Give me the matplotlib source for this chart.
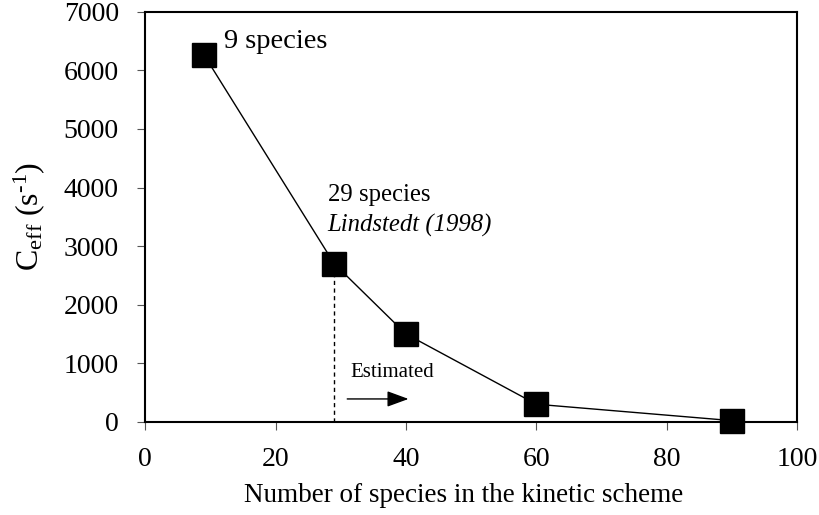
import matplotlib
matplotlib.use('Agg')

import matplotlib.pyplot as plt

# species count in the kinetic scheme vs effective rate constant
n_species = [9, 29, 40, 60, 90]
c_eff = [6270, 2700, 1500, 300, 20]

plt.rcParams['font.family'] = ['Liberation Serif', 'DejaVu Serif']
plt.rcParams['mathtext.fontset'] = 'custom'
plt.rcParams['mathtext.rm'] = 'Liberation Serif'
plt.rcParams['mathtext.it'] = 'Liberation Serif:italic'

fig = plt.figure(figsize=(8.2, 5.15), dpi=100)
ax = fig.add_axes([0.177, 0.181, 0.795, 0.796])

ax.plot(n_species, c_eff, color='black', lw=1.0, marker='s',
        markersize=17.5, markerfacecolor='black', markeredgecolor='black',
        clip_on=False, zorder=3)

# reference point of the 29-species scheme
ax.plot([n_species[1], n_species[1]], [0, c_eff[1]], color='black',
        lw=1.0, ls=(0, (3, 2.5)), zorder=2)

ax.text(n_species[0] + 3.1, c_eff[0] + 220, '9 species', fontsize=20.5,
        va='center', ha='left')
ax.text(28.0, 3880, '29 species', fontsize=17.8, va='center', ha='left')
ax.text(28.0, 3360, 'Lindstedt (1998)', fontsize=17.8, va='center',
        ha='left', style='italic')
ax.text(31.5, 850, 'Estimated', fontsize=15, va='center', ha='left')
ax.annotate('', xy=(40.4, 390), xytext=(31.0, 390),
            arrowprops=dict(arrowstyle='-|>,head_length=0.6,head_width=0.22',
                            color='black', lw=1.0, mutation_scale=22,
                            shrinkA=0, shrinkB=0))

ax.set_xlim(0, 100)
ax.set_ylim(0, 7000)
ax.set_xticks(range(0, 101, 20))
ax.set_yticks(range(0, 7001, 1000))
ax.tick_params(direction='out', length=6, width=0.8, labelsize=20,
               color='#555555')
ax.tick_params(axis='y', pad=13)
ax.tick_params(axis='x', pad=12)
for s in ax.spines.values():
    s.set_linewidth(1.5)

ax.set_xlabel('Number of species in the kinetic scheme', fontsize=19.5)
ax.xaxis.set_label_coords(0.488, -0.15)
ax.set_ylabel(r'C$_{\mathrm{eff}}$ (s$^{\text{-1}}$)', fontsize=23,
              labelpad=12)

fig.savefig('out.png', dpi=100)
